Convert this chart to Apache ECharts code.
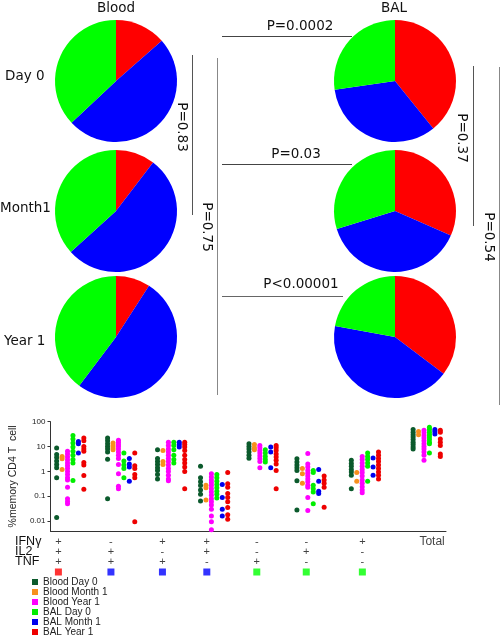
<!DOCTYPE html>
<html><head><meta charset="utf-8">
<script src="https://cdn.jsdelivr.net/npm/echarts@6/dist/echarts.min.js"></script>
<style>html,body{margin:0;padding:0;background:#fff}#c{width:500px;height:638px}</style>
</head><body><div id="c"></div>
<script>
// ---- Pie data: [IFNγ+IL2+TNF+ (red), double producers (blue), single producers (green)]
const pieColors = ['#ff0000', '#0000ff', '#00ff00'];
const pieSliceNames = ['triple', 'double', 'single'];
const bloodDay0Pie = [13.5, 49.5, 37];
const bloodMonth1Pie = [10.4, 52.9, 36.7];
const bloodYear1Pie = [9.1, 51.2, 39.7];
const balDay0Pie = [39.2, 33.5, 27.3];
const balMonth1Pie = [31.6, 38.6, 29.8];
const balYear1Pie = [35.3, 42.6, 22.1];

// ---- Scatter data
const seriesNames = ['Blood Day 0', 'Blood Month 1', 'Blood Year 1', 'BAL Day 0', 'BAL Month 1', 'BAL Year 1'];
const seriesColors = ['#0b5a2c', '#f7901e', '#ff00ff', '#00ee00', '#0000ee', '#ee0000'];
const groupPos = [0.40, 1.43, 2.44, 3.31, 4.29, 5.26, 6.36, 7.61];
const ifnSigns = ['+', '-', '+', '+', '-', '-', '+'];
const il2Signs = ['+', '+', '-', '+', '-', '+', '-'];
const tnfSigns = ['+', '+', '+', '-', '+', '-', '-'];
const groupSquareColors = ['#ff0000', '#0000ff', '#0000ff', '#0000ff', '#00ff00', '#00ff00', '#00ff00'];
const yTickLabels = ['0.01', '0.1', '1', '10', '100'];

const bloodDay0 = [
 [8.7, 4.8, 3.6, 2.6, 1.9, 1.4, 0.56, 0.014],
 [22, 17, 13, 10, 8, 6, 3.1, 0.08],
 [7.5, 3.3, 2.5, 1.9, 1.4, 1.1, 0.75, 0.5],
 [1.6, 0.55, 0.38, 0.27, 0.18, 0.12, 0.065],
 [13, 10, 8, 6, 4.5, 3.4],
 [3.2, 2.4, 1.8, 1.4, 1.1, 0.42, 0.028],
 [2.8, 2.1, 1.6, 1.2, 0.95, 0.7, 0.2],
 [48, 38, 30, 24, 19, 15, 12, 9.5, 8]
];
const bloodMonth1 = [
 [4, 3.2, 1.2],
 [14, 11, 9, 7.5],
 [7, 2.5, 1.9],
 [0.28, 0.22, 0.07],
 [12, 9, 7.5],
 [1.3, 0.8, 0.33],
 [0.9, 0.4],
 [40, 30]
];
const bloodYear1 = [
 [6.5, 5, 3.8, 2.9, 2.2, 1.7, 1.3, 1, 0.75, 0.55, 0.45, 0.23, 0.08, 0.062, 0.05],
 [18, 15, 12, 10, 8, 6, 4.5, 3.3, 1.9, 0.8, 0.25, 0.2],
 [15, 11, 8, 6, 4.5, 3.3, 2.5, 1.8, 1.3, 1, 0.7, 0.5, 0.42],
 [0.8, 0.6, 0.45, 0.35, 0.27, 0.2, 0.15, 0.11, 0.08, 0.06, 0.045, 0.03, 0.016, 0.0095, 0.0045],
 [11, 9, 7, 5.5, 4.3, 3.3, 2.5, 1.4],
 [5.2, 2, 1.5, 1.1, 0.85, 0.65, 0.5, 0.38, 0.28, 0.23, 0.09, 0.027],
 [4, 3, 2.2, 1.6, 1.2, 0.9, 0.65, 0.45, 0.33, 0.24, 0.18, 0.14],
 [45, 36, 28, 22, 17, 13, 10, 8, 6, 4.5, 2.8]
];
const balDay0 = [
 [28, 20, 14, 9.5, 6.5, 4.5, 3, 2.2, 0.43],
 [5.5, 2.6, 1.8, 1.3, 0.55],
 [15, 11, 7.5, 4.5, 3, 2.2],
 [0.75, 0.55, 0.4, 0.3, 0.22, 0.16, 0.12, 0.085],
 [7.5, 5.5, 4, 3, 2.4],
 [1.1, 0.9, 0.28, 0.2, 0.15, 0.05],
 [5.5, 4, 3, 2.2, 1.6, 0.4],
 [60, 48, 38, 30, 24, 19, 15, 13, 5.5]
];
const balMonth1 = [
 [16, 13, 5.5],
 [3.3, 2, 1.5, 0.4],
 [15, 12, 9.5],
 [0.3, 0.09, 0.03, 0.016],
 [9.5, 6, 1.4],
 [1.2, 0.4, 0.16, 0.13],
 [3.5, 1.5, 0.7],
 [48, 40, 32]
];
const balYear1 = [
 [22, 17, 10, 8, 6.5, 2.3, 1.8, 0.68, 0.19],
 [5.5, 1.7, 1.3, 0.75, 0.55, 0.0095],
 [15, 12, 9.5, 7, 4.5, 3, 2.2, 1.5, 1.0, 0.2],
 [0.9, 0.32, 0.23, 0.13, 0.09, 0.06, 0.035, 0.018, 0.012],
 [11, 9, 7, 5, 3.8, 2.8, 2, 1.1, 0.2],
 [0.65, 0.45, 0.33, 0.23, 0.036],
 [6, 4.5, 3.3, 2.5, 1.8, 1.3, 0.95, 0.7, 0.5],
 [45, 38, 20, 15, 11, 5, 4]
];
const allScatter = [bloodDay0, bloodMonth1, bloodYear1, balDay0, balMonth1, balYear1];

const chart = echarts.init(document.getElementById('c'), null, {renderer: 'canvas'});

function pie(data, cx, cy) {
  return {
    type: 'pie', center: [cx, cy], radius: 61, startAngle: 90, clockwise: true,
    silent: true, label: {show: false}, labelLine: {show: false},
    itemStyle: {borderWidth: 0},
    emphasis: {disabled: true},
    data: data.map((v, i) => ({value: v, name: pieSliceNames[i], itemStyle: {color: pieColors[i]}}))
  };
}

const series = [
  pie(bloodDay0Pie, 116, 81), pie(bloodMonth1Pie, 116, 211), pie(bloodYear1Pie, 116, 337),
  pie(balDay0Pie, 395, 81), pie(balMonth1Pie, 395, 211), pie(balYear1Pie, 395, 337)
];

allScatter.forEach((groups, si) => {
  const pts = [];
  groups.forEach((vals, gi) => {
    vals.forEach(v => pts.push([groupPos[gi] + (si - 2.5) * 0.11, v]));
  });
  series.push({
    type: 'scatter', name: seriesNames[si], xAxisIndex: 0, yAxisIndex: 0,
    symbolSize: 5, itemStyle: {color: seriesColors[si], opacity: 1},
    data: pts, silent: true
  });
});

// sign rows
const signPts = [];
[ifnSigns, il2Signs, tnfSigns].forEach((row, ri) => {
  row.forEach((s, gi) => signPts.push({value: [groupPos[gi], ri], label: {formatter: s}}));
});
signPts.push({value: [groupPos[7], 0], label: {formatter: 'Total', fontSize: 12, offset: [6, 0]}});
series.push({
  type: 'scatter', xAxisIndex: 1, yAxisIndex: 1, symbolSize: 0.1,
  itemStyle: {color: 'transparent'}, silent: true,
  label: {show: true, position: 'inside', fontFamily: 'Liberation Sans', fontSize: 11, color: '#111'},
  data: signPts
});
series.push({
  type: 'scatter', xAxisIndex: 1, yAxisIndex: 1, symbol: 'rect', symbolSize: 7, silent: true,
  data: groupSquareColors.map((c, gi) => ({value: [groupPos[gi], 3], itemStyle: {color: c}}))
});

const txtFont = '13.5px "DejaVu Sans"';
const pFont = '13.5px "DejaVu Sans"';
function T(text, x, y, font, align, rot) {
  return {type: 'text', x: x, y: y, rotation: rot || 0, silent: true,
    style: {text: text, x: 0, y: 0, font: font, fill: '#111', align: align || 'center', verticalAlign: 'middle',
      textAlign: align || 'center', textVerticalAlign: 'middle'}};
}
function L(x1, y1, x2, y2, c) {
  return {type: 'line', silent: true, shape: {x1, y1, x2, y2}, style: {stroke: c || '#555', lineWidth: 1}};
}

const graphic = [
  T('Blood', 116, 8, txtFont), T('BAL', 394, 8, txtFont),
  T('Day 0', 5, 76, txtFont, 'left'), T('Month1', 0, 208, txtFont, 'left'), T('Year 1', 4, 341, txtFont, 'left'),
  L(222, 36.5, 352, 36.5, '#444'), L(222, 164.5, 352, 164.5, '#444'), L(222, 296.5, 343, 296.5, '#666'),
  T('P=0.0002', 300, 26, pFont), T('P=0.03', 296, 154, pFont), T('P<0.00001', 301, 284, pFont),
  L(192.5, 55, 192.5, 215, '#555'), L(217.5, 58, 217.5, 395, '#888'),
  L(473.5, 66, 473.5, 226, '#555'), L(499.5, 67, 499.5, 405, '#888'),
  T('P=0.83', 181, 127, pFont, 'center', -Math.PI / 2),
  T('P=0.75', 206.5, 227, pFont, 'center', -Math.PI / 2),
  T('P=0.37', 461.5, 138, pFont, 'center', -Math.PI / 2),
  T('P=0.54', 488, 237, pFont, 'center', -Math.PI / 2)
];

chart.setOption({
  animation: false,
  backgroundColor: '#fff',
  graphic: graphic,
  legend: {
    data: seriesNames, orient: 'vertical', left: 32, top: 577, height: 61, itemWidth: 6, itemHeight: 6, itemGap: 0,
    icon: 'rect', selectedMode: false, padding: 0,
    textStyle: {fontFamily: 'Liberation Sans', fontSize: 10, color: '#222', lineHeight: 10}
  },
  grid: [
    {left: 38, right: 54, top: 421.7, bottom: 107},
    {left: 38, right: 54, top: 537, height: 40}
  ],
  xAxis: [
    {type: 'value', gridIndex: 0, min: 0, max: 8, axisLabel: {show: false}, axisTick: {show: false},
     splitLine: {show: false}, axisLine: {lineStyle: {color: '#333', width: 1}}},
    {type: 'value', gridIndex: 1, min: 0, max: 8, show: false}
  ],
  yAxis: [
    {type: 'log', gridIndex: 0, logBase: 10, min: 0.004, max: 100,
     name: '%memory CD4 T  cell', nameLocation: 'middle', nameGap: 26, nameRotate: 90,
     nameTextStyle: {fontFamily: 'Liberation Sans', fontSize: 10.5, color: '#222'},
     axisLine: {show: true, lineStyle: {color: '#333'}},
     axisTick: {show: true, length: 3, lineStyle: {color: '#333'}},
     axisLabel: {showMinLabel: false, fontFamily: 'Liberation Sans', fontSize: 8, color: '#222', margin: 5,
       formatter: v => { const s = yTickLabels.find(t => Math.abs(Math.log10(+t) - Math.log10(v)) < 1e-6); return s || ''; }},
     splitLine: {show: false}},
    {type: 'category', gridIndex: 1, inverse: true, data: ['IFNγ', 'IL2', 'TNF', ''],
     axisLine: {show: false}, axisTick: {show: false}, splitLine: {show: false},
     axisLabel: {interval: 0, align: 'left', margin: 23, fontFamily: 'Liberation Sans', fontSize: 12.5, color: '#111'}}
  ],
  series: series
});
</script></body></html>
